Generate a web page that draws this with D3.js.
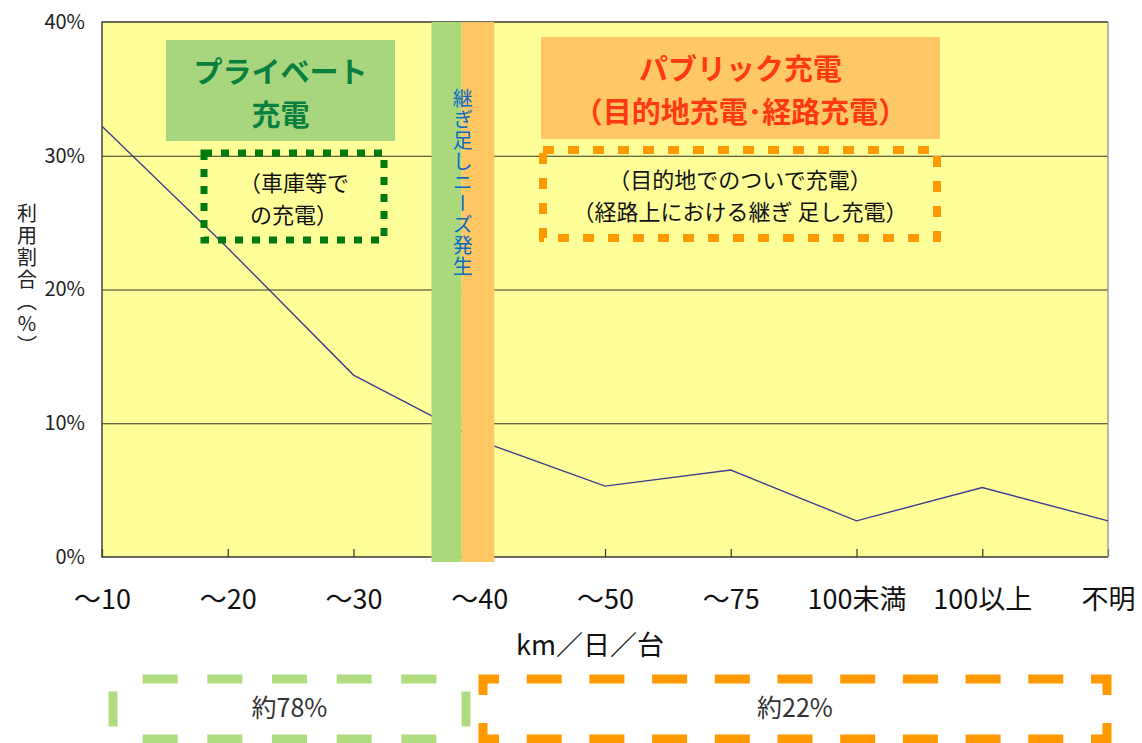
<!DOCTYPE html>
<html lang="ja">
<head>
<meta charset="utf-8">
<script src="https://cdn.jsdelivr.net/npm/d3@7"></script>
<style>
  html, body { margin: 0; padding: 0; background: #fff; }
  svg { display: block; font-family: "Noto Sans CJK JP", "Noto Sans", sans-serif; }
</style>
</head>
<body>
<svg id="chart" width="1142" height="743"></svg>
<script>
// Daily driving distance per vehicle and share of vehicles (%)
const categories = ["～10", "～20", "～30", "～40", "～50", "～75", "100未満", "100以上", "不明"];
const shares = [32.2, 23.1, 13.6, 8.7, 5.3, 6.5, 2.7, 5.2, 2.7];
const yTicks = [0, 10, 20, 30, 40];
const gridTicks = [10, 20, 30];
const privateCount = 4;   // first four distance classes are charged at home

const svg = d3.select("#chart");
const W = 1142, H = 743;
const m = { left: 102, top: 22, right: 34, bottom: 186 };
const plotW = W - m.left - m.right, plotH = H - m.top - m.bottom;

const x = d3.scalePoint().domain(categories).range([m.left, m.left + plotW]);
const y = d3.scaleLinear().domain([0, 40]).range([m.top + plotH, m.top]);
const step = x.step();

// plot background
svg.append("rect")
  .attr("x", m.left).attr("y", m.top).attr("width", plotW).attr("height", plotH)
  .attr("fill", "#ffff99");

// horizontal gridlines
svg.append("g")
  .attr("transform", `translate(${m.left},0)`)
  .call(d3.axisLeft(y).tickValues(gridTicks).tickSize(-plotW).tickFormat(""))
  .call(g => g.select(".domain").remove())
  .call(g => g.selectAll("line").attr("stroke", "#333326").attr("stroke-width", 1.1));

// x axis ticks (pointing inward) and labels
svg.append("g")
  .attr("transform", `translate(0,${m.top + plotH})`)
  .call(d3.axisBottom(x).tickSizeInner(-8).tickSizeOuter(0).tickPadding(33))
  .call(g => g.select(".domain").remove())
  .call(g => g.selectAll(".tick line").attr("stroke", "#333").attr("stroke-width", 1.2))
  .call(g => g.selectAll(".tick text")
    .attr("font-size", 27).attr("fill", "#111")
    .attr("font-family", "'Noto Sans CJK JP', sans-serif"));

// y axis labels
svg.append("g")
  .attr("transform", `translate(${m.left},0)`)
  .call(d3.axisLeft(y).tickValues(yTicks).tickSize(0).tickPadding(17).tickFormat(d => d + "%"))
  .call(g => g.select(".domain").remove())
  .call(g => g.selectAll(".tick text")
    .attr("font-size", 20).attr("fill", "#222")
    .attr("font-family", "'Noto Sans CJK JP', sans-serif"));

// plot frame: dark on left, top and bottom, lighter on the right
const frame = svg.append("g").attr("fill", "none").attr("stroke-width", 1.4);
frame.append("path")
  .attr("d", `M${m.left + plotW},${m.top}H${m.left}V${m.top + plotH}H${m.left + plotW}`)
  .attr("stroke", "#3a3a30");
frame.append("line")
  .attr("x1", m.left + plotW).attr("x2", m.left + plotW)
  .attr("y1", m.top).attr("y2", m.top + plotH)
  .attr("stroke", "#9a9a90");

// share line
const line = d3.line().x((d, i) => x(categories[i])).y(d => y(d));
svg.append("path")
  .datum(shares)
  .attr("d", line)
  .attr("fill", "none")
  .attr("stroke", "#3f3f8f")
  .attr("stroke-width", 1.4);

// band where top-up charging demand appears (between ～30 and ～40)
const bandX0 = x(categories[2]) + step * 0.62;
const bandXm = x(categories[2]) + step * 0.86;
const bandX1 = x(categories[2]) + step * 1.12;
svg.append("rect").attr("x", bandX0).attr("y", m.top).attr("width", bandXm - bandX0)
  .attr("height", plotH + 5).attr("fill", "#acd87c");
svg.append("rect").attr("x", bandXm).attr("y", m.top).attr("width", bandX1 - bandXm)
  .attr("height", plotH + 5).attr("fill", "#ffc663");
svg.append("text")
  .attr("x", bandXm + 1).attr("y", 88)
  .style("writing-mode", "vertical-rl")
  .attr("font-size", 20).attr("letter-spacing", 1)
  .attr("fill", "#0a6cc4")
  .text("継ぎ足しニーズ発生");

// y axis title, vertical
svg.append("text")
  .attr("x", 27).attr("y", 203)
  .style("writing-mode", "vertical-rl")
  .style("text-orientation", "upright")
  .attr("font-size", 20).attr("letter-spacing", 2)
  .attr("fill", "#222")
  .text("利用割合（%）");

// header boxes
function header(x0, y0, w, h, fill, color, lines) {
  svg.append("rect").attr("x", x0).attr("y", y0).attr("width", w).attr("height", h).attr("fill", fill);
  lines.forEach((t, i) => {
    svg.append("text")
      .attr("x", x0 + w / 2).attr("y", y0 + 30 + i * 43)
      .attr("text-anchor", "middle").attr("dominant-baseline", "central")
      .attr("font-size", 29).attr("font-weight", "bold")
      .attr("fill", color).text(t);
  });
}
header(166, 40, 229, 101, "#a8d67e", "#0a8040", ["プライベート", "充電"]);
header(541, 37, 399, 102, "#ffc866", "#ff3a12", ["パブリック充電", "（目的地充電･経路充電）"]);

// dotted note boxes
function noteBox(x0, y0, x1, y1, color, sw, dash, lines, fs, lh) {
  svg.append("rect").attr("x", x0).attr("y", y0).attr("width", x1 - x0).attr("height", y1 - y0)
    .attr("fill", "none").attr("stroke", color).attr("stroke-width", sw)
    .attr("stroke-dasharray", dash);
  lines.forEach((t, i) => {
    svg.append("text")
      .attr("x", (x0 + x1) / 2).attr("y", (y0 + y1) / 2 + (i - (lines.length - 1) / 2) * lh)
      .attr("text-anchor", "middle").attr("dominant-baseline", "central")
      .attr("font-size", fs).attr("fill", "#111").text(t);
  });
}
noteBox(204, 153, 384, 240, "#007a10", 7, "8 9", ["（車庫等で", "の充電）"], 22, 32);
noteBox(543, 150, 937, 238, "#ff9900", 8, "11 14", ["（目的地でのついで充電）", "（経路上における継ぎ 足し充電）"], 22, 32);

// dashed share summary boxes below the chart
function dashedSide(g, xa, ya, xb, yb, d, gap0, minN) {
  const len = Math.hypot(xb - xa, yb - ya);
  let n = Math.max(minN, Math.round((len - gap0) / (d + gap0)));
  const gap = (len - n * d) / (n + 1);
  const ux = (xb - xa) / len, uy = (yb - ya) / len;
  for (let i = 0; i < n; i++) {
    const s = gap + i * (d + gap);
    g.append("line")
      .attr("x1", xa + ux * s).attr("y1", ya + uy * s)
      .attr("x2", xa + ux * (s + d)).attr("y2", ya + uy * (s + d));
  }
}
function summaryBox(x0, y0, x1, y1, color, corner, label) {
  const g = svg.append("g").attr("stroke", color).attr("stroke-width", 9).attr("fill", "none");
  const L = corner;
  if (L > 0) {
    [[x0, y0, 1, 1], [x1, y0, -1, 1], [x1, y1, -1, -1], [x0, y1, 1, -1]].forEach(([cx, cy, sx, sy]) => {
      g.append("path").attr("d", `M${cx + sx * L},${cy}H${cx}V${cy + sy * L}`)
        .attr("stroke-linejoin", "miter");
    });
  }
  const minN = L > 0 ? 0 : 1;
  dashedSide(g, x0 + L, y0, x1 - L, y0, 35, 25, minN);
  dashedSide(g, x0 + L, y1, x1 - L, y1, 35, 25, minN);
  dashedSide(g, x0, y0 + L, x0, y1 - L, 35, 25, minN);
  dashedSide(g, x1, y0 + L, x1, y1 - L, 35, 25, minN);
  svg.append("text")
    .attr("x", (x0 + x1) / 2).attr("y", (y0 + y1) / 2 - 3)
    .attr("text-anchor", "middle").attr("dominant-baseline", "central")
    .attr("font-size", 25).attr("fill", "#333").text(label);
}
const privateShare = d3.sum(shares.slice(0, privateCount));
const publicShare = d3.sum(shares.slice(privateCount));
summaryBox(113, 679, 466, 739, "#b0dc80", 0, `約${Math.round(privateShare)}%`);
summaryBox(483, 679, 1107, 739, "#ff9900", 16, `約${Math.round(publicShare)}%`);

// x axis title
svg.append("text")
  .attr("x", 590).attr("y", 643)
  .attr("text-anchor", "middle").attr("dominant-baseline", "central")
  .attr("font-size", 27).attr("fill", "#111")
  .text("km／日／台");
</script>
</body>
</html>
